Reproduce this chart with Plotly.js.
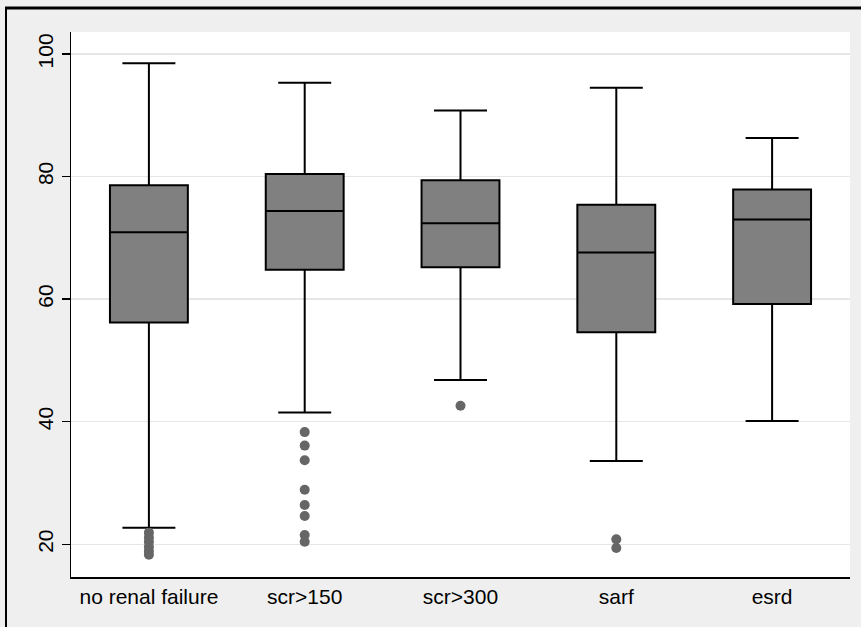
<!DOCTYPE html>
<html>
<head>
<meta charset="utf-8">
<script src="https://cdn.plot.ly/plotly-3.0.1.min.js"></script>
<style>
  html, body { margin: 0; padding: 0; background: #efefef; }
  #chart { width: 861px; height: 627px; }
</style>
</head>
<body>
<div id="chart"></div>
<script>
// Groups along the x axis
const categories = ["no renal failure", "scr>150", "scr>300", "sarf", "esrd"];

// Box summary statistics per group
const lowerWhisker = [22.7, 41.5, 46.8, 33.6, 40.1];
const q1Values     = [56.2, 64.8, 65.2, 54.6, 59.2];
const medianValues = [70.9, 74.4, 72.4, 67.6, 73.0];
const q3Values     = [78.6, 80.4, 79.4, 75.4, 77.9];
const upperWhisker = [98.5, 95.3, 90.8, 94.5, 86.3];

// Outside values per group
const outliersNoRenal = [21.9, 21.1, 20.4, 19.6, 18.9, 18.3];
const outliersScr150  = [38.3, 36.1, 33.7, 28.9, 26.4, 24.6, 21.5, 20.4];
const outliersScr300  = [42.6];
const outliersSarf    = [20.8, 19.4];
const outliersEsrd    = [];

const outlierGroups = [outliersNoRenal, outliersScr150, outliersScr300, outliersSarf, outliersEsrd];
const outX = [], outY = [];
outlierGroups.forEach((vals, i) => {
  vals.forEach(v => { outX.push(categories[i]); outY.push(v); });
});

const boxTrace = {
  type: "box",
  x: categories,
  q1: q1Values,
  median: medianValues,
  q3: q3Values,
  lowerfence: lowerWhisker,
  upperfence: upperWhisker,
  boxpoints: false,
  width: 0.5,
  whiskerwidth: 0.68,
  fillcolor: "#808080",
  line: { color: "#000000", width: 2 },
  hoverinfo: "skip",
  showlegend: false
};

const outlierTrace = {
  type: "scatter",
  mode: "markers",
  x: outX,
  y: outY,
  marker: { color: "#666666", size: 10, line: { width: 0 } },
  hoverinfo: "skip",
  showlegend: false
};

const font = { family: "Liberation Sans, Arial, sans-serif", size: 21, color: "#000000" };

// Frame lines drawn in paper coordinates around the graph region
const W = 861, H = 627, L = 71, R = 11, T = 32, B = 50;
const pw = W - L - R, ph = H - T - B;
const px = p => (p - L) / pw;
const py = p => (H - B - p) / ph;

const layout = {
  width: W,
  height: H,
  margin: { l: L, r: R, t: T, b: B, pad: 0 },
  paper_bgcolor: "#efefef",
  plot_bgcolor: "#ffffff",
  font: font,
  showlegend: false,
  hovermode: false,
  xaxis: {
    type: "category",
    categoryorder: "array",
    categoryarray: categories,
    range: [-0.5, 4.5],
    showline: true,
    linecolor: "#000000",
    linewidth: 1.5,
    ticks: "",
    showgrid: false,
    zeroline: false,
    tickfont: font,
    fixedrange: true
  },
  yaxis: {
    range: [14.66, 103.59],
    tickvals: [20, 40, 60, 80, 100],
    ticktext: ["20", "40", "60", "80", "100"],
    tickangle: -90,
    ticks: "outside",
    ticklen: 8,
    tickwidth: 1.5,
    tickcolor: "#000000",
    showline: true,
    linecolor: "#000000",
    linewidth: 1.5,
    showgrid: true,
    gridcolor: "#e6e6e6",
    gridwidth: 1.5,
    zeroline: false,
    tickfont: font,
    fixedrange: true
  },
  shapes: [
    { type: "line", xref: "paper", yref: "paper",
      x0: px(5), x1: px(W + 5), y0: py(8), y1: py(8),
      line: { color: "#000000", width: 3 } },
    { type: "line", xref: "paper", yref: "paper",
      x0: px(6), x1: px(6), y0: py(7), y1: py(H + 5),
      line: { color: "#000000", width: 2 } }
  ]
};

Plotly.newPlot("chart", [boxTrace, outlierTrace], layout, { staticPlot: true, displayModeBar: false });
</script>
</body>
</html>
